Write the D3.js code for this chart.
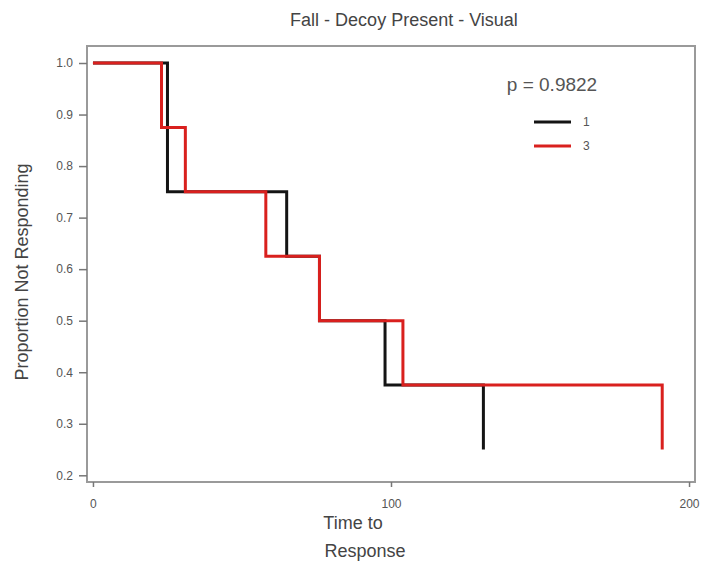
<!DOCTYPE html>
<html>
<head>
<meta charset="utf-8">
<script src="https://cdn.jsdelivr.net/npm/d3@7"></script>
<style>
  body { margin: 0; background: #fff; }
  text { font-family: "Liberation Sans", Arial, sans-serif; }
</style>
</head>
<body>
<div id="chart"></div>
<script>
// group 1 (black) and group 3 (red) Kaplan-Meier steps
var timesGroup1 = [0, 25, 65, 76, 98, 131];
var survGroup1 = [1.0, 0.75, 0.625, 0.5, 0.375, 0.25];
var timesGroup3 = [0, 23, 31, 58, 76, 104, 191];
var survGroup3 = [1.0, 0.875, 0.75, 0.625, 0.5, 0.375, 0.25];
var groupLabels = ["1", "3"];
var groupColors = ["#141414", "#d9201e"];
var xTicks = [0, 100, 200];
var yTicks = [0.2, 0.3, 0.4, 0.5, 0.6, 0.7, 0.8, 0.9, 1.0];
var pValueText = "p = 0.9822";

var width = 701, height = 567;
var frame = {left: 87, right: 695, top: 46, bottom: 482};

var svg = d3.select("#chart").append("svg")
    .attr("width", width)
    .attr("height", height);

var xScale = d3.scaleLinear()
    .domain([-2, 202])
    .range([frame.left, frame.right]);
var yScale = d3.scaleLinear()
    .domain([0.187, 1.033])
    .range([frame.bottom, frame.top]);

// frame
svg.append("rect")
    .attr("x", frame.left)
    .attr("y", frame.top)
    .attr("width", frame.right - frame.left)
    .attr("height", frame.bottom - frame.top)
    .attr("fill", "none")
    .attr("stroke", "#9a9a9a")
    .attr("stroke-width", 2);

// y axis
var yAxis = d3.axisLeft(yScale)
    .tickValues(yTicks)
    .tickFormat(d3.format(".1f"))
    .tickSize(8)
    .tickPadding(6);
var yG = svg.append("g")
    .attr("transform", "translate(" + frame.left + ",0)")
    .call(yAxis);
yG.select(".domain").remove();
yG.selectAll(".tick line").attr("stroke", "#777").attr("stroke-width", 1.5);
yG.selectAll(".tick text")
    .attr("fill", "#555")
    .style("font-size", "12px");

// x axis
var xAxis = d3.axisBottom(xScale)
    .tickValues(xTicks)
    .tickSize(5)
    .tickPadding(12);
var xG = svg.append("g")
    .attr("transform", "translate(0," + frame.bottom + ")")
    .call(xAxis);
xG.select(".domain").remove();
xG.selectAll(".tick line").attr("stroke", "#777").attr("stroke-width", 1.5);
xG.selectAll(".tick text")
    .attr("fill", "#555")
    .style("font-size", "12px");

// step lines
var line = d3.line()
    .x(function(d) { return xScale(d[0]); })
    .y(function(d) { return yScale(d[1]); })
    .curve(d3.curveStepAfter);

var series = [
    d3.zip(timesGroup1, survGroup1),
    d3.zip(timesGroup3, survGroup3)
];
var dataGroup = svg.append("g");
series.forEach(function(s, i) {
    dataGroup.append("path")
        .attr("d", line(s))
        .attr("fill", "none")
        .attr("stroke", groupColors[i])
        .attr("stroke-width", 3);
});

// p value + legend
svg.append("text")
    .attr("x", 552)
    .attr("y", 91)
    .attr("text-anchor", "middle")
    .attr("fill", "#555")
    .style("font-size", "19px")
    .text(pValueText);

var legend = svg.append("g");
groupLabels.forEach(function(lbl, i) {
    var ly = 122 + i * 24;
    legend.append("line")
        .attr("x1", 534).attr("x2", 571)
        .attr("y1", ly).attr("y2", ly)
        .attr("stroke", groupColors[i])
        .attr("stroke-width", 3);
    legend.append("text")
        .attr("x", 583)
        .attr("y", ly + 4)
        .attr("fill", "#555")
        .style("font-size", "12px")
        .text(lbl);
});

// titles
svg.append("text")
    .attr("x", 404)
    .attr("y", 26)
    .attr("text-anchor", "middle")
    .attr("fill", "#444")
    .style("font-size", "18px")
    .text("Fall - Decoy Present - Visual");

svg.append("text")
    .attr("transform", "translate(28,272) rotate(-90)")
    .attr("text-anchor", "middle")
    .attr("fill", "#444")
    .style("font-size", "18px")
    .text("Proportion Not Responding");

svg.append("text")
    .attr("x", 353)
    .attr("y", 529)
    .attr("text-anchor", "middle")
    .attr("fill", "#444")
    .style("font-size", "18px")
    .text("Time to");
svg.append("text")
    .attr("x", 365)
    .attr("y", 557)
    .attr("text-anchor", "middle")
    .attr("fill", "#444")
    .style("font-size", "18px")
    .text("Response");
</script>
</body>
</html>
